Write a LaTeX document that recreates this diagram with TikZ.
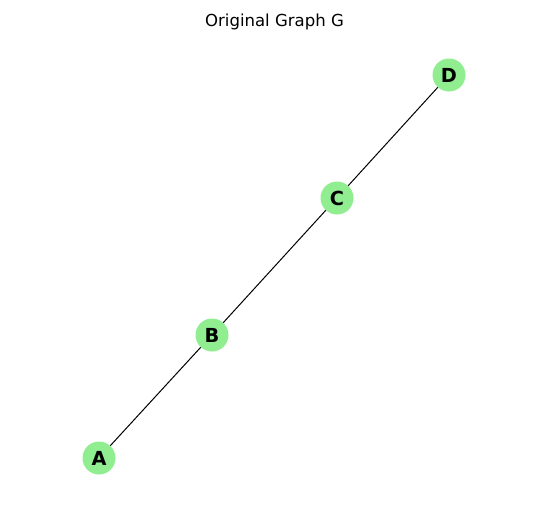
\documentclass[tikz,border=0pt]{standalone}
\usepackage{fontspec}
\setmainfont{DejaVu Sans}
\definecolor{lightgreen}{HTML}{90EE90}
\begin{document}
\begin{tikzpicture}[x=0.75pt,y=-0.75pt,
  vertex/.style={circle,fill=lightgreen,minimum size=24.75pt,inner sep=0pt,font=\fontsize{14.5}{16}\selectfont\bfseries},
  edge/.style={draw=black,line width=0.75pt}]
\useasboundingbox[fill=white] (0,0) rectangle (536,507);
\node[font=\fontsize{12.4}{14}\selectfont] (title) at (274.5,22) {Original Graph G};
\node[vertex] (A) at (99,458) {A};
\node[vertex] (B) at (212,335) {B};
\node[vertex] (C) at (337,198) {C};
\node[vertex] (D) at (449,75) {D};
\draw[edge] (A) -- (B);
\draw[edge] (B) -- (C);
\draw[edge] (C) -- (D);
\end{tikzpicture}
\end{document}
